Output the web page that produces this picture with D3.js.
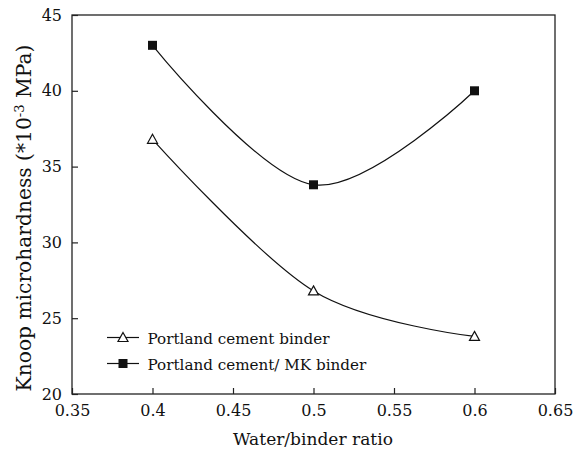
<!DOCTYPE html>
<html><head><meta charset="utf-8">
<script src="https://cdn.jsdelivr.net/npm/d3@7"></script>
<style>body{margin:0;background:#fff}svg{display:block}</style>
</head><body><svg id="c" width="581" height="453"></svg>
<script>
const ratios = [0.4, 0.5, 0.6];
const pcValues = [36.8, 26.8, 23.8];
const mkValues = [43, 33.8, 40];
const seriesNames = ["Portland cement binder", "Portland cement/ MK binder"];
const xTicks = [0.35, 0.4, 0.45, 0.5, 0.55, 0.6, 0.65];
const yTicks = [20, 25, 30, 35, 40, 45];

const FONT = "'DejaVu Serif', serif";
const svg = d3.select("#c").style("font-family", FONT);
const L = 72, R = 555, T = 15, B = 394;
const x = d3.scaleLinear().domain([0.35, 0.65]).range([L, R]);
const y = d3.scaleLinear().domain([20, 45]).range([B, T]);

function fit(sel, width) {
  const fs = parseFloat(sel.style("font-size"));
  const w = sel.node().getComputedTextLength();
  if (w > 0) sel.style("font-size", (fs * width / w) + "px");
  return sel.style("font-size");
}

svg.append("rect").attr("x", L).attr("y", T).attr("width", R - L).attr("height", B - T)
  .attr("fill", "none").attr("stroke", "#222").attr("stroke-width", 1.3);

const xAxis = svg.append("g").attr("transform", `translate(0,${B})`)
  .call(d3.axisBottom(x).tickValues(xTicks).tickSizeInner(-6).tickSizeOuter(0).tickPadding(11).tickFormat(d => String(+d.toFixed(2))));
const yAxis = svg.append("g").attr("transform", `translate(${L},0)`)
  .call(d3.axisLeft(y).tickValues(yTicks).tickSizeInner(-6).tickSizeOuter(0).tickPadding(10).tickFormat(d3.format("d")));
[xAxis, yAxis].forEach(g => {
  g.attr("font-family", null).attr("font-size", null);
  g.select(".domain").remove();
  g.selectAll("line").attr("stroke", "#222").attr("stroke-width", 1.2);
  g.selectAll("text").style("font-size", "16px").attr("fill", "#111");
});

const line = d3.line().x(d => x(d[0])).y(d => y(d[1])).curve(d3.curveCardinal.tension(0));
const pc = ratios.map((r, i) => [r, pcValues[i]]);
const mk = ratios.map((r, i) => [r, mkValues[i]]);
svg.append("path").attr("d", line(pc)).attr("fill", "none").attr("stroke", "#111").attr("stroke-width", 1.2);
svg.append("path").attr("d", line(mk)).attr("fill", "none").attr("stroke", "#111").attr("stroke-width", 1.2);

function triMarker(g, cx, cy) {
  g.append("path").attr("d", "M0,-5L5,4L-5,4Z").attr("transform", `translate(${cx},${cy})`)
    .attr("fill", "#fff").attr("stroke", "#111").attr("stroke-width", 1.2);
}
function sqMarker(g, cx, cy) {
  g.append("rect").attr("x", cx - 4.5).attr("y", cy - 4.5).attr("width", 9).attr("height", 9).attr("fill", "#111");
}
pc.forEach(d => triMarker(svg, x(d[0]), y(d[1])));
mk.forEach(d => sqMarker(svg, x(d[0]), y(d[1])));

const leg = [[337.5, triMarker], [363.5, sqMarker]];
let legFs = null;
leg.forEach(([ly, fn], i) => {
  svg.append("line").attr("x1", 107).attr("x2", 139).attr("y1", ly).attr("y2", ly).attr("stroke", "#111").attr("stroke-width", 1.2);
  fn(svg, 123, ly);
  const t = svg.append("text").attr("x", 147.5).attr("y", ly + 6).style("font-size", "17px").attr("fill", "#111").text(seriesNames[i]);
  if (i === 0) legFs = fit(t, 182); else t.style("font-size", legFs);
});

const xt = svg.append("text").attr("x", 313).attr("y", 445).attr("text-anchor", "middle").style("font-size", "17px").attr("fill", "#111").text("Water/binder ratio");
fit(xt, 160);

const yt = svg.append("text").attr("transform", `translate(31,218) rotate(-90)`).attr("text-anchor", "middle").style("font-size", "18px").attr("fill", "#111");
yt.append("tspan").text("Knoop microhardness (*10");
yt.append("tspan").attr("dy", -7).style("font-size", "0.65em").text("-3");
yt.append("tspan").attr("dy", 7).text(" MPa)");
fit(yt, 347);
</script></body></html>
